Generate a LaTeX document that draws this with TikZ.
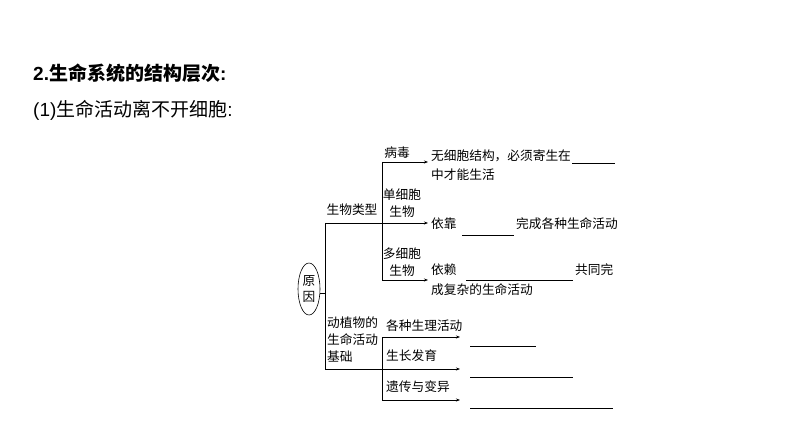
\documentclass[tikz,border=0pt]{standalone}
\usepackage{fontspec}
\setmainfont{Liberation Sans}
\newfontfamily\cjk{Noto Sans CJK SC}
\usetikzlibrary{arrows.meta,shapes.geometric}
\begin{document}
\begin{tikzpicture}[x=1pt,y=-1pt,
  t/.style={font=\cjk\fontsize{12.7}{14}\selectfont,inner sep=0pt},
  ln/.style={line width=0.6pt},
  ar/.style={ln,-{Stealth[length=4pt,width=3pt]}},
  bl/.style={line width=0.6pt}]
\useasboundingbox (0,0) rectangle (794,446);
\node[anchor=west,inner sep=0pt,font=\bfseries\fontsize{19}{22}\selectfont] (h1) at (33,73) {2.{\cjk 生命系统的结构层次}:};
\node[anchor=west,inner sep=0pt,font=\fontsize{19}{22}\selectfont] (h2) at (33,110) {(1){\cjk 生命活动离不开细胞}:};
\node[draw,ellipse,ln,minimum width=22pt,minimum height=52pt,inner sep=0pt,align=center,t] (yy) at (309,289) {原\\[2pt]因};
\coordinate (T) at (325,293);
\coordinate (T1) at (325,223);
\coordinate (T2) at (325,369);
\draw[ln] (yy.east|-T) -- (T);
\draw[ln] (T1) -- (T2);
\coordinate (A1) at (382,162);
\coordinate (A2) at (382,280);
\coordinate (B1) at (382,337);
\coordinate (B2) at (382,400);
\draw[ln] (A1) -- (A2);
\draw[ln] (B1) -- (B2);
\coordinate (a1) at (428,162);
\coordinate (a2) at (428,223);
\coordinate (a3) at (428,280);
\coordinate (b1) at (460,337);
\coordinate (b2) at (460,369);
\coordinate (b3) at (460,400);
\draw[ar] (A1) -- (a1);
\draw[ar] (T1) -- (a2);
\draw[ar] (A2) -- (a3);
\draw[ar] (B1) -- (b1);
\draw[ar] (T2) -- (b2);
\draw[ar] (B2) -- (b3);
% blanks
\draw[bl] (572,163) -- (615,163);
\draw[bl] (462,235) -- (514,235);
\draw[bl] (466,280) -- (573,280);
\draw[bl] (470,346) -- (536,346);
\draw[bl] (470,377) -- (573,377);
\draw[bl] (470,408) -- (613,408);
% labels
\node[t] (lx) at (352,210) {生物类型};
\node[t] (bd) at (397,153) {病毒};
\node[t,anchor=west] (w1) at (431,156) {无细胞结构，必须寄生在};
\node[t,anchor=west] (w2) at (431,175) {中才能生活};
\node[t,align=center] (dx) at (402,203) {单细胞\\[3pt]生物};
\node[t,anchor=west] (y1) at (431,224) {依靠};
\node[t,anchor=west] (y2) at (516,224) {完成各种生命活动};
\node[t,align=center] (dd) at (402,262) {多细胞\\[3pt]生物};
\node[t,anchor=west] (z1) at (431,270) {依赖};
\node[t,anchor=west] (z2) at (575,270) {共同完};
\node[t,anchor=west] (z3) at (431,290) {成复杂的生命活动};
\node[t,anchor=west,align=left] (dz) at (327,340) {动植物的\\[3pt]生命活动\\[3pt]基础};
\node[t,anchor=west] (c1) at (386,326) {各种生理活动};
\node[t,anchor=west] (c2) at (386,356) {生长发育};
\node[t,anchor=west] (c3) at (386,387) {遗传与变异};
\end{tikzpicture}
\end{document}
